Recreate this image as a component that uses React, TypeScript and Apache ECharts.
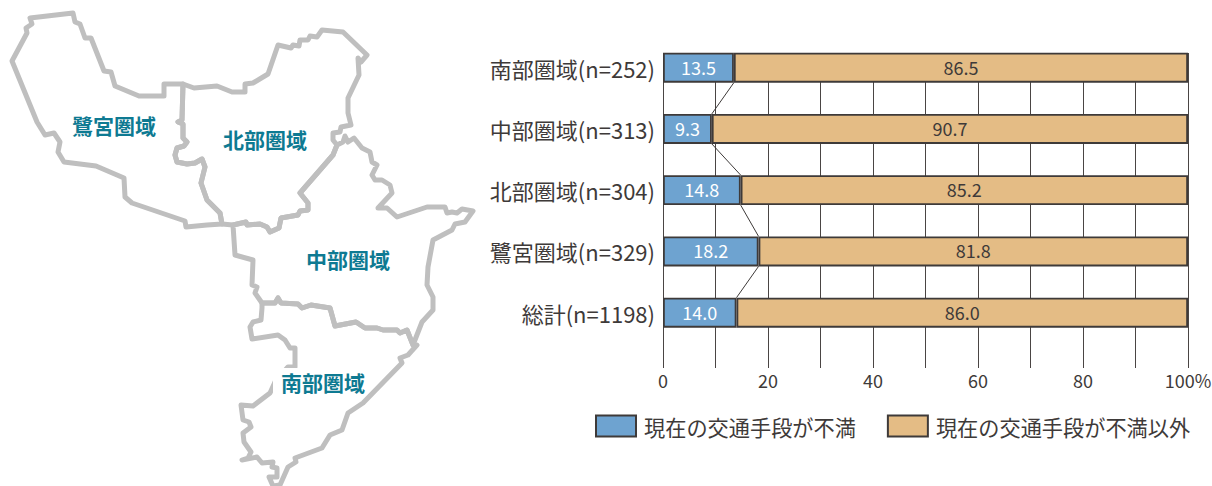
import React, { useEffect, useRef } from "react";
import * as echarts from "echarts";

const categories = ["南部圏域(n=252)", "中部圏域(n=313)", "北部圏域(n=304)", "鷺宮圏域(n=329)", "総計(n=1198)"];
const dissatisfied = [13.5, 9.3, 14.8, 18.2, 14.0];
const other = [86.5, 90.7, 85.2, 81.8, 86.0];
const seriesNames = ["現在の交通手段が不満", "現在の交通手段が不満以外"];
const xTicks = [0, 20, 40, 60, 80, 100];

// Map outlines
type P = [number, number];
const sharedSagiNorth: P[] = [[183, 84], [182, 120], [178, 122], [183, 124], [183, 138], [187, 142], [184, 146], [177, 148], [175, 155], [177, 162], [187, 164], [195, 163], [202, 159], [205, 167], [201, 183], [207, 200], [220, 213], [222, 224]];
const sharedNorthCentral: P[] = [[337, 145], [333, 155], [300, 193], [308, 203], [308, 210], [300, 211], [298, 215], [281, 218], [279, 228], [270, 232], [267, 227], [260, 224], [247, 225], [246, 222], [233, 225]];
const sagimiyaEdge: P[] = [[207, 225], [186, 227], [185, 221], [132, 203], [125, 197], [124, 178], [96, 166], [64, 162], [58, 152], [60, 142], [54, 133], [45, 135], [37, 122], [12, 61], [27, 33], [26, 28], [32, 24], [30, 18], [73, 13], [75, 22], [80, 24], [85, 38], [91, 38], [104, 71], [111, 72], [115, 86], [139, 96], [164, 96], [164, 84]];
const northEdge: P[] = [[194, 88], [217, 86], [232, 92], [245, 92], [245, 84], [253, 83], [268, 74], [278, 45], [291, 48], [293, 45], [299, 46], [300, 40], [308, 40], [310, 36], [317, 37], [322, 30], [343, 32], [367, 55], [361, 62], [358, 58], [359, 75], [348, 98], [348, 113], [351, 125], [341, 127], [340, 132], [333, 133], [333, 140]];
const centralWest: P[] = [[235, 255], [253, 260], [252, 285], [257, 287], [255, 293]];
const sharedCentralSouth: P[] = [[262, 303], [275, 303], [278, 298], [281, 303], [298, 304], [302, 308], [311, 305], [330, 308], [335, 326], [356, 322], [365, 328], [377, 328], [383, 330], [397, 330], [400, 333], [407, 330], [413, 345]];
const centralEast: P[] = [[422, 322], [433, 310], [433, 297], [427, 285], [428, 267], [433, 240], [452, 230], [455, 224], [465, 222], [473, 211], [462, 209], [457, 213], [452, 212], [447, 213], [445, 207], [427, 207], [397, 217], [387, 208], [378, 208], [392, 193], [390, 185], [382, 180], [375, 180], [372, 175], [377, 165], [372, 162], [370, 152], [362, 148], [354, 138], [348, 142], [345, 136], [343, 142]];
const southEdge: P[] = [[262, 308], [261, 320], [253, 322], [250, 327], [252, 339], [278, 335], [285, 340], [290, 348], [295, 348], [295, 367], [288, 367], [275, 382], [270, 393], [253, 406], [241, 405], [243, 420], [249, 422], [251, 427], [243, 433], [244, 442], [251, 452], [248, 458], [242, 460], [257, 457], [262, 463], [273, 462], [272, 467], [277, 468], [277, 477], [269, 477], [273, 486], [280, 485], [288, 467], [296, 462], [295, 458], [322, 448], [330, 435], [342, 430], [348, 413], [363, 403], [402, 363], [400, 358], [408, 355], [417, 345]];

const regions: { name: string; ring: P[]; cp: P }[] = [
  { name: "鷺宮圏域", ring: [...sharedSagiNorth, ...sagimiyaEdge], cp: [114, 125] },
  { name: "北部圏域", ring: [...sharedSagiNorth, ...[...sharedNorthCentral].reverse(), ...[...northEdge].reverse()], cp: [265, 138.5] },
  { name: "中部圏域", ring: [[233, 225], ...centralWest, ...sharedCentralSouth, ...centralEast, ...sharedNorthCentral], cp: [348, 259] },
  { name: "南部圏域", ring: [...southEdge, ...[...sharedCentralSouth].reverse()], cp: [319, 381.5] },
];

const allPts = regions.flatMap((r) => r.ring);
const minX = Math.min(...allPts.map((p) => p[0]));
const maxX = Math.max(...allPts.map((p) => p[0]));
const minY = Math.min(...allPts.map((p) => p[1]));
const maxY = Math.max(...allPts.map((p) => p[1]));

const TEXT = "#3e3a39";
const FONT = '"Noto Sans CJK JP", "Noto Sans", sans-serif';

export default function App() {
  const ref = useRef<HTMLDivElement>(null);
  useEffect(() => {
    document.body.style.margin = "0";
    echarts.registerMap("area", {
      type: "FeatureCollection",
      features: regions.map((r) => ({
        type: "Feature",
        properties: { name: r.name, cp: r.cp },
        geometry: { type: "Polygon", coordinates: [[...r.ring, r.ring[0]]] },
      })),
    } as any);
    const chart = echarts.init(ref.current!, undefined, { renderer: "svg" });
    const connectors = dissatisfied.slice(0, -1).map((v, i) => [v, dissatisfied[i + 1], i]);
    const barStyle = { borderColor: TEXT, borderWidth: 1.8 };
    const valueLabel = (color: string) => ({
      show: true,
      position: "inside" as const,
      color,
      fontSize: 18,
      offset: [0, -1],
      fontFamily: FONT,
      formatter: (p: any) => Number(p.value).toFixed(1),
    });
    chart.setOption({
      animation: false,
      backgroundColor: "#ffffff",
      textStyle: { fontFamily: FONT },
      geo: {
        map: "area",
        silent: true,
        roam: false,
        aspectScale: 1,
        left: minX,
        top: minY,
        width: maxX - minX,
        height: maxY - minY,
        projection: { project: (p: number[]) => p, unproject: (p: number[]) => p },
        itemStyle: { areaColor: "transparent", borderColor: "#bfbfbf", borderWidth: 5, borderJoin: "round" } as any,
        label: { show: true, color: "#0e7a92", fontSize: 21, fontWeight: "bold", fontFamily: FONT },
        regions: [
          {
            name: "南部圏域",
            label: { show: true, color: "#0e7a92", fontSize: 21, fontWeight: "bold", fontFamily: FONT, backgroundColor: "#ffffff", padding: [6, 0, 0, 8] },
          },
        ],
      },
      grid: [
        { left: 663, width: 525, top: 53, height: 315, containLabel: false, outerBoundsMode: "none" },
        { left: 663, width: 525, top: 37, height: 306.25, containLabel: false, outerBoundsMode: "none" },
      ],
      xAxis: [
        {
          type: "value",
          gridIndex: 0,
          min: 0,
          max: 100,
          interval: 10,
          axisLine: { show: false },
          axisTick: { show: false },
          splitLine: { show: true, lineStyle: { color: "#4a4544", width: 1 } },
          axisLabel: {
            margin: 3,
            color: TEXT,
            fontSize: 18,
            fontFamily: FONT,
            formatter: (v: number) => (xTicks.includes(v) ? (v === 100 ? `${v}%` : `${v}`) : ""),
          },
        },
        { type: "value", gridIndex: 1, min: 0, max: 100, show: false },
      ],
      yAxis: [
        { type: "category", gridIndex: 0, data: [""], show: false },
        {
          type: "category",
          gridIndex: 1,
          inverse: true,
          data: categories,
          axisLine: { show: false },
          axisTick: { show: false },
          axisLabel: { margin: 8, color: TEXT, fontSize: 22, fontFamily: FONT, padding: [0, 0, 2, 0] },
        },
      ],
      legend: {
        left: 595,
        top: 414.5,
        padding: 0,
        itemWidth: 40,
        itemHeight: 21,
        itemGap: 31,
        icon: "rect",
        data: seriesNames,
        selectedMode: false,
        textStyle: { color: TEXT, fontSize: 21.2, fontFamily: FONT, padding: [0, 0, 0, 3] },
      },
      series: [
        {
          name: seriesNames[0],
          type: "bar",
          stack: "total",
          xAxisIndex: 1,
          yAxisIndex: 1,
          barWidth: 30,
          data: dissatisfied,
          itemStyle: { color: "#6ea3d0", ...barStyle },
          label: valueLabel("#ffffff"),
        },
        {
          name: seriesNames[1],
          type: "bar",
          stack: "total",
          xAxisIndex: 1,
          yAxisIndex: 1,
          barWidth: 30,
          data: other,
          itemStyle: { color: "#e4bc85", ...barStyle },
          label: valueLabel(TEXT),
        },
        {
          type: "custom",
          xAxisIndex: 1,
          yAxisIndex: 1,
          data: connectors,
          silent: true,
          encode: { x: 0, y: 2 },
          renderItem: (_: any, api: any) => {
            const a = api.coord([api.value(0), api.value(2)]);
            const b = api.coord([api.value(1), api.value(2) + 1]);
            return {
              type: "line",
              shape: { x1: a[0], y1: a[1] + 15, x2: b[0], y2: b[1] - 15 },
              style: { stroke: TEXT, lineWidth: 1 },
            };
          },
        },
      ],
    });
    return () => chart.dispose();
  }, []);
  return <div ref={ref} style={{ width: 1212, height: 486 }} />;
}
